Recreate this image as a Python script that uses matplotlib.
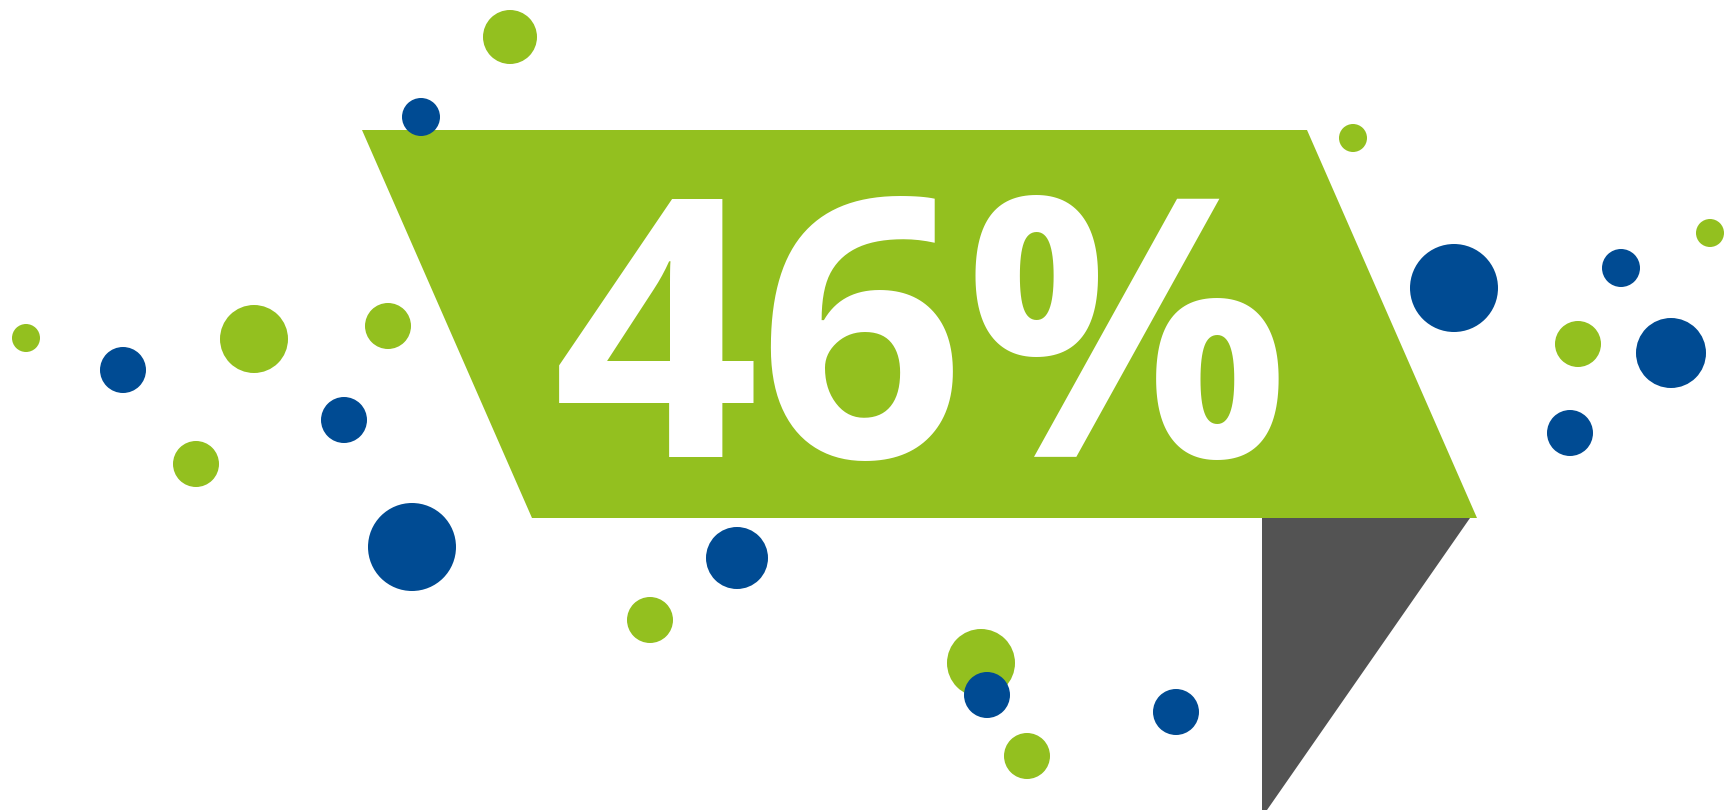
import matplotlib
matplotlib.use("Agg")
import matplotlib.pyplot as plt
from matplotlib.patches import Circle, Polygon

W, H = 1731, 810

GREEN = '#93c01f'
BLUE = '#004b93'
GREY = '#535353'

# headline value
value_label = "46%"

# decorative dots: x, y, radius (pixels)
green_x = [510, 1353, 1710, 26, 254, 388, 196, 1578, 650, 981, 1027]
green_y = [37, 138, 233, 338, 339, 326, 464, 344, 620, 663, 756]
green_r = [27, 14, 14, 14, 34, 23, 23, 23, 23, 34, 23]

blue_x = [421, 1454, 1621, 1671, 123, 344, 1570, 412, 737, 987, 1176]
blue_y = [117, 288, 268, 353, 370, 420, 433, 547, 558, 695, 712]
blue_r = [19, 44, 19, 35, 23, 23, 23, 44, 31, 23, 23]

# banner shapes
banner_x = [362, 1307, 1477, 532]
banner_y = [130, 130, 518, 518]
fold_x = [1262, 1470, 1267, 1262]
fold_y = [518, 518, 810, 810]

fig = plt.figure(figsize=(W / 100, H / 100), dpi=100)
ax = fig.add_axes([0, 0, 1, 1])
ax.set_xlim(0, W)
ax.set_ylim(H, 0)
ax.axis('off')

ax.add_patch(Polygon(list(zip(banner_x, banner_y)), closed=True, fc=GREEN, ec='none', zorder=1))
ax.add_patch(Polygon(list(zip(fold_x, fold_y)), closed=True, fc=GREY, ec='none', zorder=1))

for x, y, r in zip(green_x, green_y, green_r):
    ax.add_patch(Circle((x, y), r, fc=GREEN, ec='none', zorder=2))
for x, y, r in zip(blue_x, blue_y, blue_r):
    ax.add_patch(Circle((x, y), r, fc=BLUE, ec='none', zorder=3))

ax.text(922, 457, value_label, color='white', fontsize=260, fontweight='bold',
        family=['Open Sans', 'DejaVu Sans'], ha='center', va='baseline', zorder=4)

fig.savefig('out.png', dpi=100, facecolor='white')
